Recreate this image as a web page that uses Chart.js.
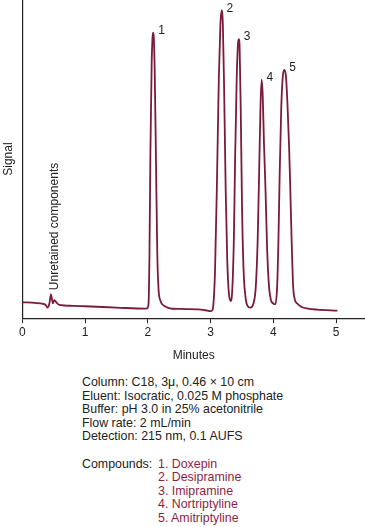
<!DOCTYPE html>
<html>
<head>
<meta charset="utf-8">
<script src="https://cdn.jsdelivr.net/npm/chart.js@4"></script>
<style>
  html, body { margin: 0; padding: 0; background: #fff; }
  body { width: 365px; height: 527px; position: relative; overflow: hidden;
         font-family: "Liberation Sans", Arial, Helvetica, sans-serif; color: #222; }
  #wrap { position: absolute; left: 0; top: 0; width: 365px; height: 365px; }
  #notes { position: absolute; left: 82px; top: 376px; font-size: 12.4px; line-height: 13.6px; }
  #notes .row { display: flex; }
  #notes .lbl { width: 76px; }
  #notes .cmp { color: #8c1f45; }
  .gap { height: 13.6px; }
</style>
</head>
<body>
<div id="wrap"><canvas id="chrom"></canvas></div>
<div id="notes"></div>
<script>
// retention time (min) and detector signal
const times = [0.00, 0.20, 0.33, 0.37, 0.40, 0.43, 0.455, 0.485, 0.51, 0.55, 0.59, 0.80, 1.00, 1.50, 1.95,
  1.99, 2.01, 2.025, 2.04, 2.06, 2.075, 2.085, 2.095, 2.11, 2.13, 2.15, 2.17, 2.20, 2.25, 2.33, 2.50, 2.80, 2.92,
  3.00, 3.03, 3.05, 3.07, 3.10, 3.13, 3.155, 3.175, 3.195, 3.215, 3.24, 3.265, 3.29, 3.32,
  3.345, 3.37, 3.39, 3.415, 3.435, 3.448, 3.462, 3.48, 3.50, 3.525, 3.56, 3.60, 3.635,
  3.68, 3.72, 3.75, 3.775, 3.795, 3.812, 3.83, 3.85, 3.875, 3.90, 3.93, 3.96, 4.00, 4.03,
  4.06, 4.08, 4.10, 4.125, 4.15, 4.175, 4.20, 4.225, 4.25, 4.265, 4.29, 4.315, 4.34, 4.38, 4.45, 4.55, 4.70, 5.02];
const signal = [5.0, 4.8, 4.5, 4.2, 3.3, 4.6, 7.5, 4.7, 5.7, 4.8, 4.2, 3.9, 3.75, 3.35, 3.0,
  3.1, 4.5, 20, 52, 80, 88.5, 89.7, 88, 76, 48, 20, 9, 5.5, 4.0, 3.2, 2.9, 2.8, 2.5,
  2.2, 2.6, 6, 15, 42, 75, 92, 96.7, 92, 72, 40, 18, 8, 5.4,
  9, 25, 50, 75, 86, 87.7, 85, 65, 35, 15, 6, 3.6, 3.3,
  4.5, 10, 25, 48, 67, 75, 70, 55, 40, 22, 10, 5.8, 4.6, 4.4,
  10, 24, 45, 66, 76, 78, 76, 67, 54, 44, 25, 10, 6, 4.6, 3.5, 3.0, 2.7, 2.4];

const xTicks = [0, 1, 2, 3, 4, 5];

const peakNumbers = ['1', '2', '3', '4', '5'];
const peakTimes = [2.085, 3.175, 3.448, 3.812, 4.175];
const peakHeights = [89.7, 96.7, 87.7, 75, 78];

const conditions = [
  'Column: C18, 3\u03bc, 0.46 \u00d7 10 cm',
  'Eluent: Isocratic, 0.025 M phosphate',
  'Buffer: pH 3.0 in 25% acetonitrile',
  'Flow rate: 2 mL/min',
  'Detection: 215 nm, 0.1 AUFS'
];
const compounds = ['Doxepin', 'Desipramine', 'Imipramine', 'Nortriptyline', 'Amitriptyline'];

const FONT = '"Liberation Sans", Arial, Helvetica, sans-serif';
const INK = '#222';
const TRACE = '#7b1a3a';

// notes under the chart
(function(){
  const box = document.getElementById('notes');
  let html = conditions.map(t => `<div>${t}</div>`).join('');
  html += '<div class="gap"></div>';
  html += '<div class="row"><div class="lbl">Compounds:</div><div class="cmp">' +
    compounds.map((c, i) => `<div>${i + 1}. ${c}</div>`).join('') + '</div></div>';
  box.innerHTML = html;
})();

const labelPlugin = {
  id: 'peakLabels',
  afterDatasetsDraw(chart){
    const ctx = chart.ctx;
    const xs = chart.scales.x, ys = chart.scales.y;
    ctx.save();
    ctx.fillStyle = INK;
    ctx.font = '12px ' + FONT;
    ctx.textBaseline = 'middle';
    ctx.textAlign = 'left';
    peakNumbers.forEach((n, i) => {
      const px = xs.getPixelForValue(peakTimes[i]);
      const py = ys.getPixelForValue(peakHeights[i]);
      ctx.fillText(n, px + 5, py - 2);
    });
    // label for the unretained peak, written upwards
    const ux = xs.getPixelForValue(0.51);
    const uy = ys.getPixelForValue(8.8);
    ctx.translate(ux, uy);
    ctx.rotate(-Math.PI / 2);
    ctx.fillText('Unretained components', 0, 0);
    ctx.restore();
  }
};

Chart.defaults.font.family = FONT;
Chart.defaults.font.size = 12;
Chart.defaults.color = INK;

const chart = new Chart(document.getElementById('chrom'), {
  type: 'line',
  data: {
    datasets: [{
      data: times.map((t, i) => ({x: t, y: signal[i]})),
      borderColor: TRACE,
      borderWidth: 1.8,
      pointRadius: 0,
      cubicInterpolationMode: 'monotone',
      fill: false
    }]
  },
  plugins: [labelPlugin],
  options: {
    animation: false,
    responsive: true,
    maintainAspectRatio: false,
    events: [],
    layout: { padding: { left: 0, right: 0, top: 0, bottom: 0 } },
    plugins: {
      legend: { display: false },
      tooltip: { enabled: false }
    },
    scales: {
      x: {
        type: 'linear',
        min: 0,
        max: 5.46,
        afterBuildTicks: (axis) => { axis.ticks = xTicks.map(v => ({value: v})); },
        ticks: { padding: 2, color: INK, font: { size: 12 } },
        grid: { drawOnChartArea: false, drawTicks: true, tickLength: 5, color: INK, lineWidth: 1 },
        border: { display: true, color: INK, width: 1.2 },
        title: { display: true, text: 'Minutes', color: INK, font: { size: 12 }, padding: { top: 7, bottom: 2 } }
      },
      y: {
        min: 0,
        max: 100,
        ticks: { display: false },
        grid: { display: false, drawTicks: false },
        border: { display: true, color: INK, width: 1.2 },
        title: { display: true, text: 'Signal', color: INK, font: { size: 12 }, padding: { top: 1, bottom: 7 } }
      }
    }
  }
});
</script>
</body>
</html>
